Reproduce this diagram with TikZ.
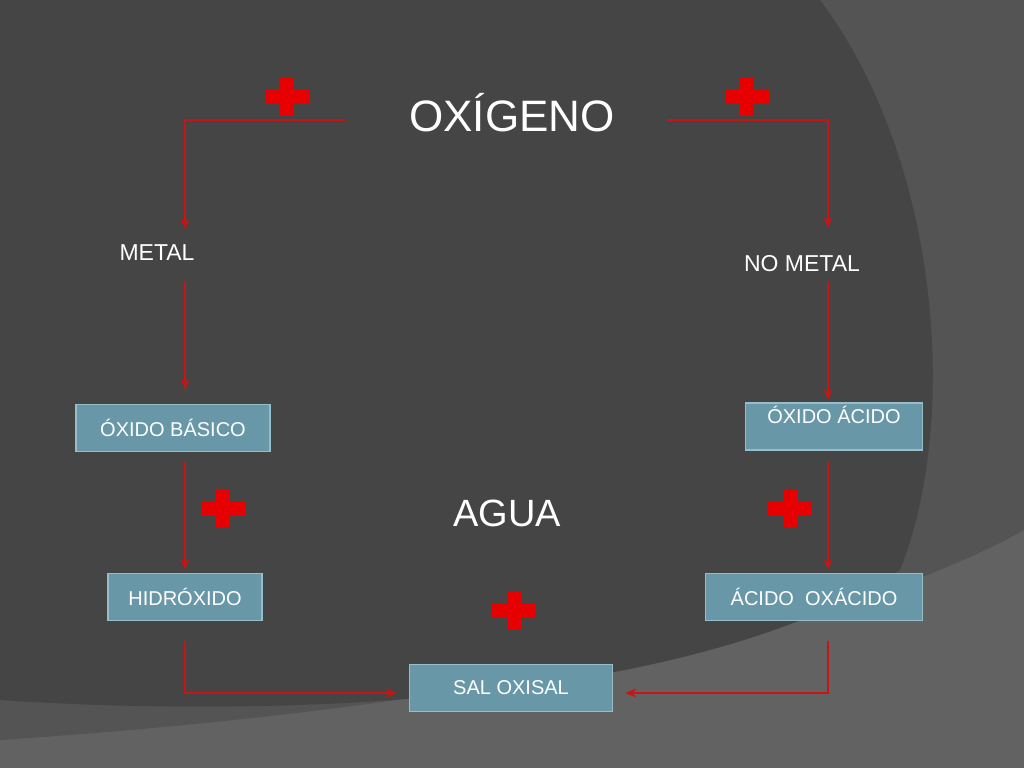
\documentclass[tikz,border=0pt]{standalone}
\usepackage{fontspec}
\usetikzlibrary{arrows.meta}
\setmainfont{Liberation Sans}
\definecolor{bgdark}{RGB}{69,69,69}
\definecolor{bglight}{RGB}{98,98,98}
\definecolor{bgmid}{RGB}{84,84,84}
\definecolor{boxfill}{RGB}{104,152,168}
\definecolor{boxline}{RGB}{150,190,200}
\definecolor{plusred}{RGB}{230,0,0}
\definecolor{arrred}{RGB}{200,20,20}
\tikzset{every picture/.style={line width=0.75pt}}
\tikzset{
  chembox/.style={draw=boxline,line width=1.5pt,fill=boxfill,text=white,font=\fontsize{20}{24}\selectfont,minimum height=47pt,inner sep=3pt},
  lbl/.style={text=white,font=\fontsize{23}{27}\selectfont},
  conn/.style={draw=arrred,line width=2.4pt,-{Stealth[length=11pt,width=9pt]}},
  plus/.style={fill=plusred}
}
\newcommand{\plusmark}[2]{\fill[plus] (#1-22,#2-7) rectangle (#1+22,#2+7); \fill[plus] (#1-7,#2-19) rectangle (#1+7,#2+19);}
\begin{document}
\begin{tikzpicture}[x=1pt,y=1pt,yscale=-1]
	\useasboundingbox (0,0) rectangle (1024,768);
	% background
	\fill[bglight] (0,0) rectangle (1024,768);
	\fill[bgmid] (0,0) -- (1024,0) -- (1024,530) .. controls (900,600) and (600,700) .. (0,740) -- cycle;
	\fill[bgdark] (0,0) -- (820,0) .. controls (940,160) and (960,420) .. (900,570) .. controls (700,700) and (300,720) .. (0,700) -- cycle;
	% Text Node
	\node[text=white,font=\fontsize{44}{50}\selectfont] (oxi) at (512,113) {OXÍGENO};
	\node[lbl] (metal) at (157,253) {METAL};
	\node[lbl] (nometal) at (802,264) {NO METAL};
	\node[text=white,font=\fontsize{38}{44}\selectfont] (agua) at (507,513) {AGUA};
	% Boxes
	\node[chembox,minimum width=194pt] (obas) at (173,428) {ÓXIDO BÁSICO};
	\node[chembox,minimum width=177pt,anchor=north,text depth=22pt] (oaci) at (834,402) {ÓXIDO ÁCIDO};
	\node[chembox,minimum width=154pt] (hidr) at (185,597) {HIDRÓXIDO};
	\node[chembox,minimum width=217pt] (aoxa) at (814,597) {ÁCIDO~~OXÁCIDO};
	\node[chembox,minimum width=203pt] (sal) at (511,688) {SAL OXISAL};
	% Plus signs
	\plusmark{287}{97}
	\plusmark{747}{97}
	\plusmark{223}{508}
	\plusmark{790}{508}
	\plusmark{514}{611}
	% Connection
	\coordinate (lt) at (185,120);
	\coordinate (rt) at (828,120);
	\draw[conn] (345,120) -- (lt) -- ([yshift=-12pt]metal.north -| lt);
	\draw[conn] (668,120) -- (rt) -- (828,228);
	\draw[conn] (185,282) -- ([yshift=-14pt]obas.north -| lt);
	\draw[conn] (828,282) -- ([yshift=-2pt]oaci.north -| rt);
	\draw[conn] ([yshift=10pt]obas.south -| lt) -- ([yshift=-3pt]hidr.north -| lt);
	\draw[conn] ([yshift=10pt]oaci.south -| rt) -- ([yshift=-3pt]aoxa.north -| rt);
	\draw[conn] ([yshift=20pt]hidr.south -| lt) |- ([xshift=-12pt]sal.west |- 0,693);
	\draw[conn] ([yshift=20pt]aoxa.south -| rt) |- ([xshift=12pt]sal.east |- 0,693);
\end{tikzpicture}
\end{document}
